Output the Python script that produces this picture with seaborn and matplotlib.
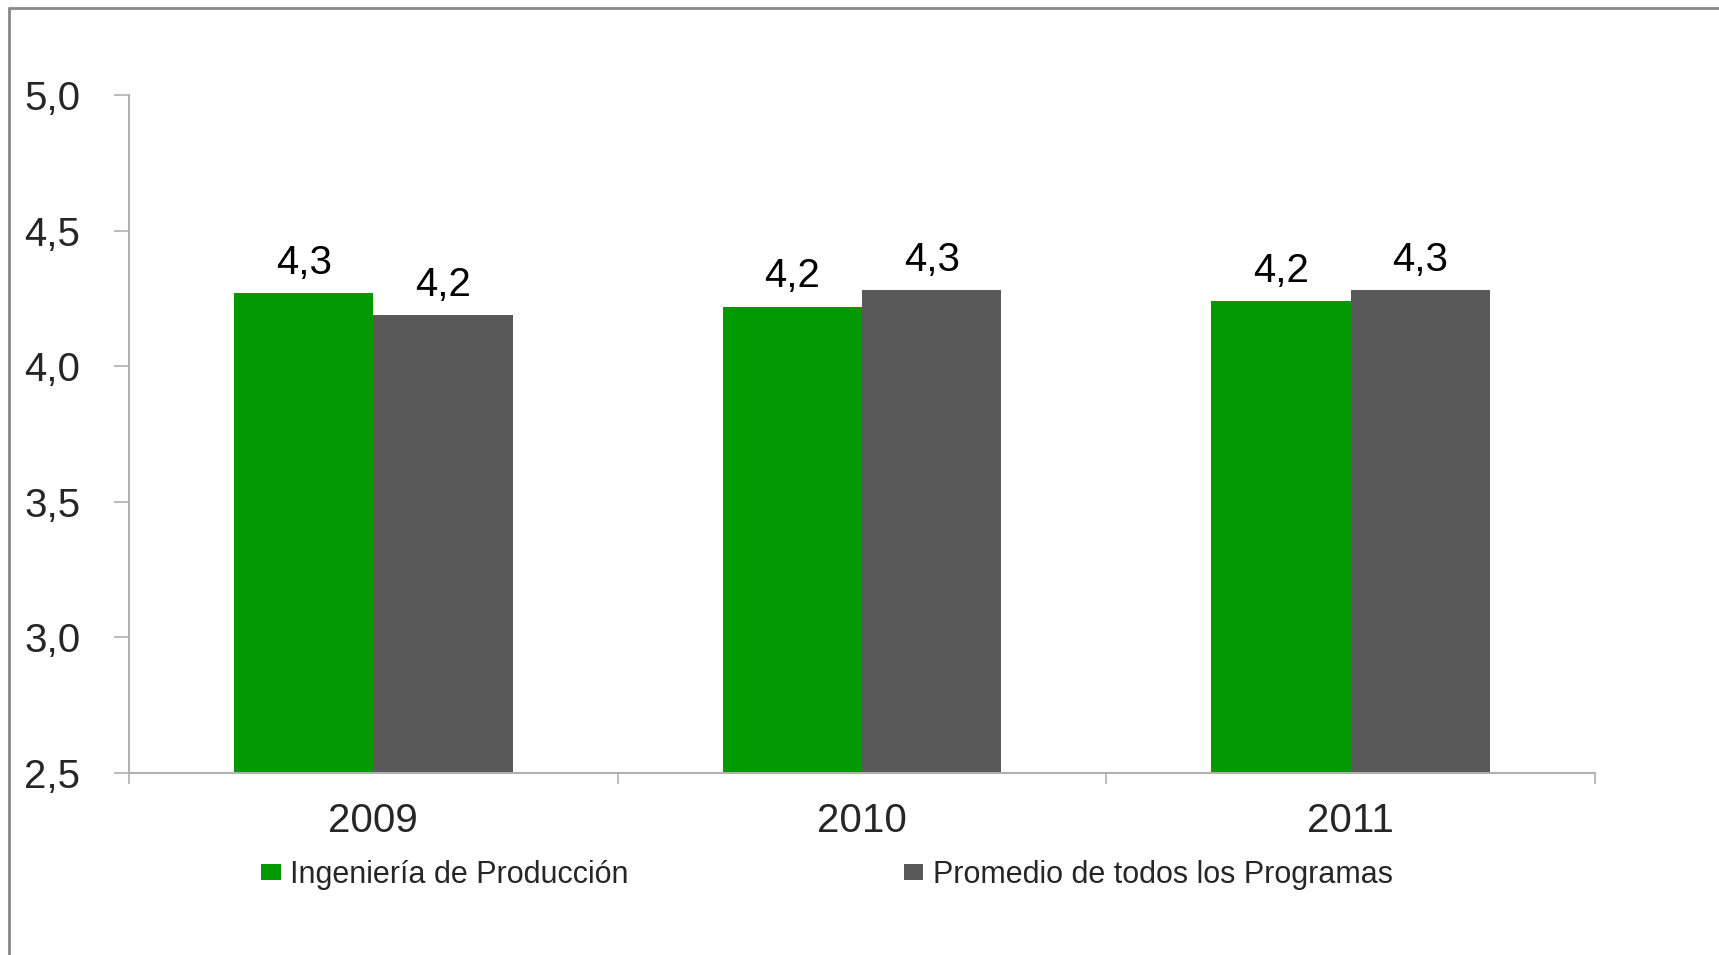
import matplotlib

matplotlib.use("Agg")
import matplotlib.pyplot as plt
from matplotlib.lines import Line2D
import seaborn as sns
import pandas as pd

anios = ["2009", "2010", "2011"]
series = ["Ingeniería de Producción", "Promedio de todos los Programas"]
ingenieria = [4.27, 4.22, 4.24]
promedio = [4.19, 4.28, 4.28]
colores = ["#009900", "#595959"]

df = pd.DataFrame(
    {
        "anio": anios * 2,
        "valor": ingenieria + promedio,
        "serie": [series[0]] * 3 + [series[1]] * 3,
    }
)

sns.set_style("white")
plt.rcParams["font.family"] = ["Liberation Sans", "DejaVu Sans"]

fig = plt.figure(figsize=(17.19, 9.55), dpi=100)
ax = fig.add_axes([129 / 1719, 1 - 773 / 955, (1595 - 129) / 1719, (773 - 95) / 955])

sns.barplot(
    data=df,
    x="anio",
    y="valor",
    hue="serie",
    palette=colores,
    saturation=1,
    width=0.57,
    linewidth=0,
    ax=ax,
)

for contenedor in ax.containers:
    ax.bar_label(
        contenedor,
        labels=[f"{b.get_height():.1f}".replace(".", ",") for b in contenedor],
        padding=8,
        fontsize=29,
        color="black",
    )

ax.set_ylim(2.5, 5.0)
ax.set_xlim(-0.5, 2.5)
ax.set_yticks([2.5, 3.0, 3.5, 4.0, 4.5, 5.0])
ax.set_yticklabels(["2,5", "3,0", "3,5", "4,0", "4,5", "5,0"])
ax.set_xticks([-0.5, 0.5, 1.5, 2.5], minor=True)
ax.set_xlabel("")
ax.set_ylabel("")

color_eje = "#b0b0b0"
for lado in ["top", "right"]:
    ax.spines[lado].set_visible(False)
for lado in ["left", "bottom"]:
    ax.spines[lado].set_color(color_eje)
    ax.spines[lado].set_linewidth(1.5)

ax.tick_params(axis="y", which="major", length=11, width=1.2, color=color_eje,
               labelsize=29, pad=24, left=True)
ax.tick_params(axis="x", which="major", length=0, labelsize=29, pad=21)
ax.tick_params(axis="x", which="minor", length=8, width=1.2, color=color_eje, bottom=True)

ax.legend(
    loc="center left",
    bbox_to_anchor=(261 / 1719, 1 - 875 / 955),
    bbox_transform=fig.transFigure,
    ncol=2,
    frameon=False,
    fontsize=22,
    borderpad=0,
    borderaxespad=0,
    handlelength=0.65,
    handleheight=0.46,
    handletextpad=0.3,
    columnspacing=9.0,
)

# marco gris del recuadro original
borde = "#888888"
x0 = 9 / 1719
y0 = 1 - 8 / 955
fig.add_artist(Line2D([x0, x0], [0, y0], color=borde, linewidth=2, transform=fig.transFigure))
fig.add_artist(Line2D([x0, 1], [y0, y0], color=borde, linewidth=2, transform=fig.transFigure))

fig.savefig("out.png", dpi=100, facecolor="white")
plt.close(fig)
